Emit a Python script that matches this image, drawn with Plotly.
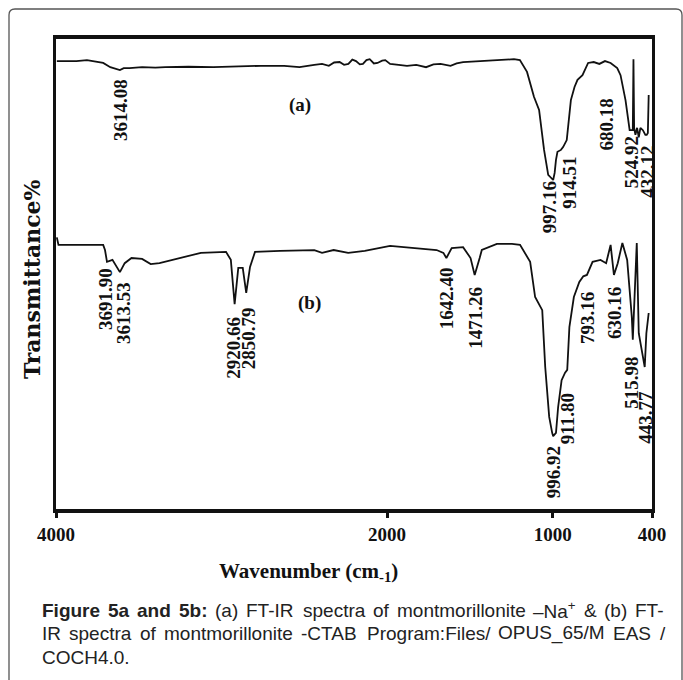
import plotly.graph_objects as go

# ---------------- data ----------------
wn_a = [3995, 3920, 3877, 3813, 3756, 3715, 3672, 3640, 3614, 3591, 3556, 3480, 3400, 3340,
        3200, 3049, 2900, 2763, 2622, 2529, 2440, 2393, 2352, 2320, 2287, 2260, 2234, 2210,
        2188, 2165, 2146, 2125, 2105, 2080, 2058, 2030, 2011, 1982, 1930, 1880, 1824, 1765,
        1720, 1677, 1617, 1580, 1541, 1459, 1368, 1300, 1234, 1198, 1155, 1113, 1082, 1052,
        1027, 997, 988, 980, 971, 950, 937, 915, 905, 890, 868, 850, 820, 806, 786, 752, 718,
        684, 650, 610, 590, 560, 535, 525, 516, 512, 508, 500, 490, 480, 470, 455, 440, 432,
        425, 420]
tr_a = [95.3, 95.3, 95.3, 95.5, 95.1, 94.9, 94.0, 93.6, 93.4, 93.8, 93.8, 94.0, 93.9, 94.0,
        94.1, 94.0, 94.2, 94.3, 94.3, 94.0, 94.5, 94.7, 94.3, 95.0, 95.1, 94.5, 94.7, 95.6,
        95.3, 94.6, 94.7, 95.5, 95.7, 94.8, 94.9, 95.4, 95.5, 94.7, 94.5, 94.3, 94.5, 94.0,
        94.6, 94.7, 94.3, 94.8, 95.1, 95.3, 95.5, 95.6, 95.7, 95.5, 93.0, 87.7, 84.9, 76.4,
        71.1, 70.0, 71.5, 74.3, 76.0, 76.4, 77.0, 78.5, 81.7, 87.0, 89.8, 91.3, 92.3, 93.4,
        94.9, 95.1, 94.7, 95.3, 94.9, 93.8, 92.3, 87.0, 80.6, 80.6, 80.6, 95.7, 81.1, 79.6,
        81.1, 79.1, 81.1, 80.6, 79.6, 79.6, 80.0, 88.1]

wn_b = [3995, 3985, 3865, 3715, 3704, 3692, 3659, 3640, 3614, 3585, 3544, 3480, 3428, 3375,
        3253, 3125, 2973, 2944, 2921, 2899, 2872, 2851, 2828, 2798, 2646, 2440, 2393, 2323,
        2235, 2135, 1982, 1824, 1701, 1660, 1642, 1610, 1541, 1496, 1471, 1441, 1428, 1337,
        1246, 1197, 1136, 1106, 1063, 1045, 1021, 1003, 997, 980, 967, 946, 925, 912, 899,
        872, 839, 815, 793, 759, 711, 677, 650, 630, 607, 579, 550, 522, 516, 492, 480, 462,
        444, 434, 420]
tr_b = [57.8, 56.2, 56.2, 56.2, 55.1, 52.6, 53.0, 51.9, 50.4, 52.3, 53.4, 53.2, 52.1, 52.3,
        53.4, 54.5, 54.7, 53.0, 43.6, 51.3, 51.3, 46.0, 51.5, 54.7, 54.9, 55.1, 54.5, 55.1,
        54.5, 54.9, 56.0, 55.5, 55.1, 54.5, 53.4, 55.5, 55.7, 53.4, 49.8, 53.4, 55.1, 56.4,
        56.4, 56.2, 52.6, 45.1, 42.3, 30.2, 19.6, 16.2, 15.5, 16.2, 21.7, 27.4, 29.0, 29.6,
        38.7, 45.1, 48.3, 49.5, 49.8, 52.6, 53.0, 52.3, 56.2, 49.8, 52.3, 56.6, 53.0, 40.9,
        36.0, 56.6, 37.4, 33.8, 30.2, 37.4, 41.7]

peaks_a = [3614.08, 997.16, 914.51, 680.18, 524.92, 432.12]
peaks_b = [3691.90, 3613.53, 2920.66, 2850.79, 1642.40, 1471.26, 996.92, 911.80,
           793.16, 630.16, 515.98, 443.77]

tick_vals = [4000, 2000, 1000, 400]
tick_text = ["4000", "2000", "1000", "400"]

# ---------------- layout helpers ----------------
W, H = 683, 680
L, R, T, B = 56, 652, 39, 509


def px_x(px):
    return (px - L) / (R - L)


def px_y(py):
    return (B - py) / (B - T)


# label vertical centres (pixels) and small horizontal nudges
lab_a_y = [110, 207, 183, 125, 162, 172]
lab_a_dx = [0, -3, 2, 0, 0, 0]
lab_b_y = [299, 313, 348, 338, 298, 318, 472, 419, 318, 313, 383, 417]
lab_b_dx = [-2, 3, -2, 2, 0, 0, 0, 0, 0, 0, -2, 0]

fig = go.Figure()
fig.add_trace(go.Scatter(x=wn_a, y=tr_a, mode="lines",
                         line=dict(color="#111111", width=1.8), showlegend=False))
fig.add_trace(go.Scatter(x=wn_b, y=tr_b, mode="lines",
                         line=dict(color="#111111", width=1.8), showlegend=False))

ann = []
serif = "Liberation Serif"
lab_font = dict(family=serif, size=19, color="#111", weight="bold")
for v, yy, dx in zip(peaks_a, lab_a_y, lab_a_dx):
    ann.append(dict(x=v, xref="x", y=px_y(yy), yref="paper", text=f"{v:.2f}",
                    xanchor="center", yanchor="middle",
                    textangle=-90, showarrow=False, xshift=dx, font=lab_font))
for v, yy, dx in zip(peaks_b, lab_b_y, lab_b_dx):
    ann.append(dict(x=v, xref="x", y=px_y(yy), yref="paper", text=f"{v:.2f}",
                    xanchor="center", yanchor="middle",
                    textangle=-90, showarrow=False, xshift=dx, font=lab_font))

for txt, xp, yp in [("(a)", 300, 105), ("(b)", 309, 303)]:
    ann.append(dict(x=px_x(xp), y=px_y(yp), xref="paper", yref="paper", text=txt,
                    xanchor="center", yanchor="middle", showarrow=False,
                    font=dict(family=serif, size=19, color="#111", weight="bold")))

ann.append(dict(x=px_x(32), y=px_y(279), xref="paper", yref="paper", text="Transmittance%",
                xanchor="center", yanchor="middle", textangle=-90, showarrow=False,
                font=dict(family="DejaVu Serif", size=22, color="#111", weight="bold")))
ann.append(dict(x=px_x(308), y=px_y(572), xref="paper", yref="paper",
                xanchor="center", yanchor="middle",
                text="Wavenumber (cm<sub>-1</sub>)", showarrow=False,
                font=dict(family=serif, size=21, color="#111", weight="bold")))

# ---------------- justified caption ----------------
REG = {' ': 278, '(': 333, ')': 333, '-': 333, '.': 278, '/': 278, ':': 278, '_': 556,
       '&': 667, '+': 584, '–': 556, 'A': 667, 'B': 667, 'C': 722, 'E': 667, 'F': 611,
       'H': 722, 'I': 278, 'M': 833, 'N': 722, 'O': 778, 'P': 667, 'R': 722, 'S': 667,
       'T': 611, 'U': 722, 'a': 556, 'b': 556, 'c': 500, 'e': 556, 'f': 278, 'g': 556,
       'i': 222, 'l': 222, 'm': 833, 'n': 556, 'o': 556, 'p': 556, 'r': 333, 's': 500,
       't': 278}
BOLD = {'F': 611, 'i': 278, 'g': 611, 'u': 611, 'r': 389, 'e': 556, 'a': 556, 'n': 611,
        'd': 611, 'b': 611, ':': 333}
CAP_SIZE = 19


def word_width(word, bold):
    w = 0.0
    sup = False
    i = 0
    while i < len(word):
        if word.startswith("<sup>", i):
            sup = True
            i += 5
            continue
        if word.startswith("</sup>", i):
            sup = False
            i += 6
            continue
        c = word[i]
        cw = (BOLD.get(c) if bold else None) or REG.get(c, 556)
        w += cw * (0.7 if sup else 1.0)
        i += 1
    return w * CAP_SIZE / 1000


line1 = [("Figure", True), ("5a", True), ("and", True), ("5b:", True), ("(a)", False),
         ("FT-IR", False), ("spectra", False), ("of", False), ("montmorillonite", False),
         ("–Na<sup>+</sup>", False), ("&", False), ("(b)", False), ("FT-", False)]
line2 = [("IR", False), ("spectra", False), ("of", False), ("montmorillonite", False),
         ("-CTAB", False), ("Program:Files/", False), ("OPUS_65/M", False), ("EAS", False),
         ("/", False)]
line3 = [("COCH4.0.", False)]

cap_left, cap_right = 41, 664


def place_line(words, ypx, justify):
    widths = [word_width(w, b) for w, b in words]
    if justify and len(words) > 1:
        gap = (cap_right - cap_left - sum(widths)) / (len(words) - 1)
    else:
        gap = 278 * CAP_SIZE / 1000
    x = cap_left
    for (w, b), ww in zip(words, widths):
        ann.append(dict(x=px_x(x), y=px_y(ypx), xref="paper", yref="paper",
                        xanchor="left", yanchor="middle", showarrow=False,
                        text=(f"<b>{w}</b>" if b else w), borderpad=0,
                        font=dict(family="Liberation Sans", size=CAP_SIZE, color="#222")))
        x += ww + gap


place_line(line1, 610, True)
place_line(line2, 633, True)
place_line(line3, 657, False)

# outer rounded frame
r = 6
frame = (f"M {px_x(9)},{px_y(700)} L {px_x(9)},{px_y(9 + r)} "
         f"Q {px_x(9)},{px_y(9)} {px_x(9 + r)},{px_y(9)} "
         f"L {px_x(682 - r)},{px_y(9)} Q {px_x(682)},{px_y(9)} {px_x(682)},{px_y(9 + r)} "
         f"L {px_x(682)},{px_y(700)}")

fig.update_layout(
    width=W, height=H,
    margin=dict(l=L, r=W - R, t=T, b=H - B, pad=0),
    paper_bgcolor="white", plot_bgcolor="white",
    annotations=ann,
    shapes=[dict(type="path", path=frame, xref="paper", yref="paper",
                 line=dict(color="#555555", width=1.3))],
    xaxis=dict(range=[4000, 400], tickvals=tick_vals, ticktext=tick_text,
               showgrid=False, zeroline=False, showline=True, mirror=True,
               linecolor="#111", linewidth=4, ticks="outside", ticklen=5, tickwidth=2.5,
               tickcolor="#111", ticklabelstandoff=0,
               tickfont=dict(family=serif, size=19, color="#111", weight="bold")),
    yaxis=dict(range=[0, 100], showgrid=False, zeroline=False, showticklabels=False,
               ticks="", showline=True, mirror=True, linecolor="#111", linewidth=3),
)

fig.write_html("out.html", config={"displayModeBar": False},
               post_script="document.body.style.margin='0';document.body.style.overflow='hidden';")
